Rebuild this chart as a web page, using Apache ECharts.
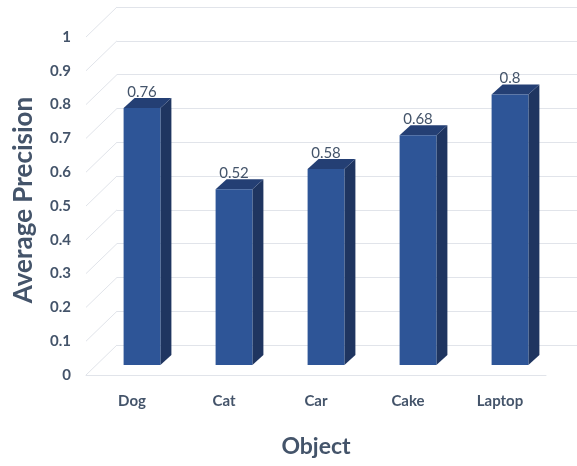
<!DOCTYPE html>
<html>
<head>
<meta charset="utf-8">
<script src="https://cdn.jsdelivr.net/npm/echarts@6/dist/echarts.min.js"></script>
<style>
  html, body { margin: 0; padding: 0; background: #ffffff; }
  #chart { width: 577px; height: 466px; }
</style>
</head>
<body>
<div id="chart"></div>
<script>
// Average precision per detected object class
const categories = ['Dog', 'Cat', 'Car', 'Cake', 'Laptop'];
const precision = [0.76, 0.52, 0.58, 0.68, 0.8];
const yTicks = [0, 0.1, 0.2, 0.3, 0.4, 0.5, 0.6, 0.7, 0.8, 0.9, 1];

const TEXT = '#44546A';
const FONT = 'Lato, "Open Sans", sans-serif';
const GRID_COLOR = '#E1E4EA';

// perspective: the back wall sits up and to the right of the front plane
const WALL_DX = 31, WALL_DY = -30;
// bars stand at roughly a third of the depth, and are a third deep
const BAR_DX = 10, BAR_DY = -10;
const BAR_DEPTH_X = 11, BAR_DEPTH_Y = -10;

const chart = echarts.init(document.getElementById('chart'), null, { renderer: 'canvas' });

function renderWall(params, api) {
  const v = api.value(0);
  const p = api.coord([0, v]);
  const x0 = params.coordSys.x;
  return {
    type: 'line',
    shape: { x1: x0, y1: p[1], x2: x0 + WALL_DX, y2: p[1] + WALL_DY },
    style: { stroke: GRID_COLOR, lineWidth: 1 },
    silent: true
  };
}

function renderBar(params, api) {
  const idx = api.value(0);
  const v = api.value(1);
  const top = api.coord([idx, v]);
  const base = api.coord([idx, 0]);
  const band = api.size([1, 0])[0];
  const w = band * 0.4;
  const x1 = top[0] + BAR_DX - w / 2;
  const x2 = x1 + w;
  const yT = top[1] + BAR_DY;
  const yB = base[1] + BAR_DY;
  const dx = BAR_DEPTH_X, dy = BAR_DEPTH_Y;
  return {
    type: 'group',
    children: [
      {
        type: 'polygon',
        shape: { points: [[x2, yT], [x2 + dx, yT + dy], [x2 + dx, yB + dy], [x2, yB]] },
        style: { fill: '#1F3560' }
      },
      {
        type: 'polygon',
        shape: { points: [[x1, yT], [x1 + dx, yT + dy], [x2 + dx, yT + dy], [x2, yT]] },
        style: { fill: '#243F74' }
      },
      {
        type: 'rect',
        shape: { x: x1, y: yT, width: w, height: yB - yT },
        style: { fill: '#2E5597' }
      },
      {
        type: 'text',
        x: top[0] + BAR_DX,
        y: yT - 16,
        style: {
          text: String(v),
          fill: TEXT,
          font: 'normal 15px ' + FONT,
          align: 'center',
          verticalAlign: 'middle'
        }
      }
    ]
  };
}

chart.setOption({
  animation: false,
  backgroundColor: '#ffffff',
  grid: [
    { left: 86, right: 31, top: 37, bottom: 91 },
    { left: 86 + WALL_DX, right: 31 - WALL_DX, top: 37 + WALL_DY, bottom: 91 - WALL_DY }
  ],
  xAxis: [
    {
      type: 'category',
      gridIndex: 0,
      data: categories,
      axisLine: { show: true, lineStyle: { color: GRID_COLOR, width: 1 } },
      axisTick: { show: false },
      axisLabel: { color: TEXT, fontFamily: FONT, fontWeight: 'bold', fontSize: 15, margin: 19 },
      name: 'Object',
      nameLocation: 'middle',
      nameGap: 72,
      nameTextStyle: { color: TEXT, fontFamily: FONT, fontWeight: 'bold', fontSize: 23, verticalAlign: 'middle' }
    },
    {
      type: 'category',
      gridIndex: 1,
      data: categories,
      show: false
    }
  ],
  yAxis: [
    {
      type: 'value',
      gridIndex: 0,
      min: 0,
      max: 1,
      interval: 0.1,
      axisLine: { show: false },
      axisTick: { show: false },
      splitLine: { show: false },
      axisLabel: { color: TEXT, fontFamily: FONT, fontWeight: 'bold', fontSize: 15, margin: 15 },
      name: 'Average Precision',
      nameLocation: 'middle',
      nameGap: 62,
      nameTextStyle: { color: TEXT, fontFamily: FONT, fontWeight: 'bold', fontSize: 26, verticalAlign: 'middle', padding: [0, 0, 0, 12] }
    },
    {
      type: 'value',
      gridIndex: 1,
      min: 0,
      max: 1,
      interval: 0.1,
      axisLine: { show: false },
      axisTick: { show: false },
      axisLabel: { show: false },
      splitLine: { show: true, lineStyle: { color: GRID_COLOR, width: 1 } }
    }
  ],
  series: [
    {
      type: 'custom',
      name: 'wall',
      xAxisIndex: 0,
      yAxisIndex: 0,
      renderItem: renderWall,
      data: yTicks.map(v => [v]),
      encode: { y: 0 },
      silent: true,
      z: 1
    },
    {
      type: 'custom',
      name: 'Average Precision',
      xAxisIndex: 0,
      yAxisIndex: 0,
      renderItem: renderBar,
      data: precision.map((v, i) => [i, v]),
      encode: { x: 0, y: 1 },
      z: 5
    }
  ]
});
</script>
</body>
</html>
